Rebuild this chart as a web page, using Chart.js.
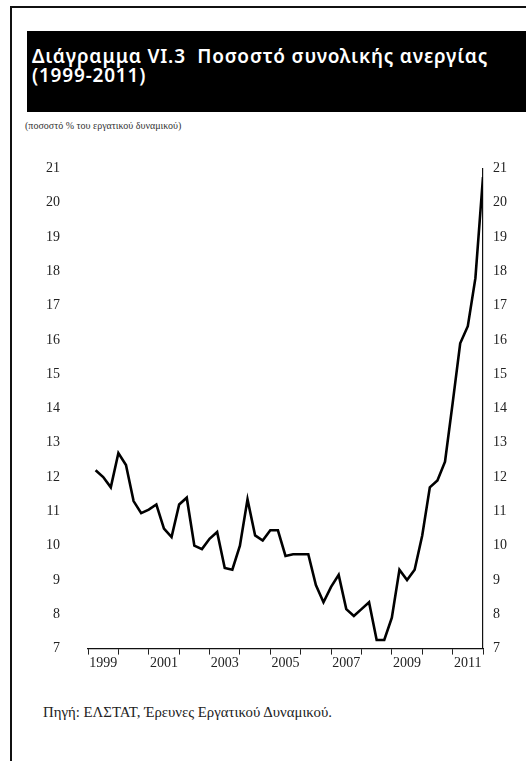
<!DOCTYPE html>
<html>
<head>
<meta charset="utf-8">
<script src="https://cdn.jsdelivr.net/npm/chart.js@4.4.0/dist/chart.umd.min.js"></script>
<style>
  html, body { margin: 0; padding: 0; background: #fff; }
  body { width: 526px; height: 761px; position: relative; overflow: hidden; }
  #frame { position: absolute; left: 10px; top: 6px; width: 600px; height: 900px;
           border-left: 2px solid #111; border-top: 2px solid #111; }
  #title { position: absolute; left: 27px; top: 31px; width: 520px; height: 81px; background: #000; }
  #title div { position: absolute; left: 5px; top: 16px; color: #fff; font-family: "Noto Sans", sans-serif;
               font-weight: 600; font-size: 19px; letter-spacing: 0.8px; line-height: 19px; white-space: nowrap; }
  #subtitle { position: absolute; left: 25px; top: 120px; font-family: "Liberation Serif", serif;
              font-size: 10px; color: #333; white-space: nowrap; }
  #chartBox { position: absolute; left: 0; top: 132px; width: 526px; height: 553px; }
  #source { position: absolute; left: 43px; top: 704px; font-family: "Liberation Serif", serif;
            font-size: 14.8px; color: #222; white-space: nowrap; }
</style>
</head>
<body>
<div id="frame"></div>
<div id="title"><div>Διάγραμμα VI.3&nbsp;&nbsp;Ποσοστό συνολικής ανεργίας<br>(1999-2011)</div></div>
<div id="subtitle">(ποσοστό % του εργατικού δυναμικού)</div>
<div id="chartBox"><canvas id="anergia" width="526" height="553"></canvas></div>
<div id="source">Πηγή: ΕΛΣΤΑΤ, Έρευνες Εργατικού Δυναμικού.</div>

<script>
// τριμηνιαία στοιχεία 1999 - 2011
var years = [1999, 2000, 2001, 2002, 2003, 2004, 2005, 2006, 2007, 2008, 2009, 2010, 2011];
var yearLabels = ['1999', '2001', '2003', '2005', '2007', '2009', '2011'];
var yTicks = [7, 8, 9, 10, 11, 12, 13, 14, 15, 16, 17, 18, 19, 20, 21];

var unemployment = [
    12.2, 12.0, 11.7, 12.7,   // 1999
    12.35, 11.3, 10.95, 11.05, // 2000
    11.2, 10.5, 10.25, 11.2,  // 2001
    11.4, 10.0, 9.9, 10.2,    // 2002
    10.4, 9.35, 9.3, 10.0,    // 2003
    11.35, 10.3, 10.15, 10.45, // 2004
    10.45, 9.7, 9.75, 9.75,   // 2005
    9.75, 8.85, 8.35, 8.8,    // 2006
    9.15, 8.15, 7.95, 8.15,   // 2007
    8.35, 7.25, 7.25, 7.9,    // 2008
    9.3, 9.0, 9.3, 10.3,      // 2009
    11.7, 11.9, 12.45, 14.15, // 2010
    15.9, 16.4, 17.8, 20.75   // 2011
];

// κάθε σημείο στο τέλος του τριμήνου
var points = unemployment.map(function (v, i) {
    return { x: years[0] + (i + 1) / 4, y: v };
});

var tickFont = { family: 'Liberation Serif', size: 14 };

var ctx = document.getElementById('anergia').getContext('2d');

new Chart(ctx, {
    type: 'line',
    data: {
        datasets: [{
            label: 'Ανεργία',
            data: points,
            borderColor: '#000',
            borderWidth: 2.6,
            pointRadius: 0,
            tension: 0,
            fill: false,
            yAxisID: 'y'
        }]
    },
    options: {
        responsive: false,
        animation: false,
        layout: { padding: { top: 19, left: 0, right: 0, bottom: 0 } },
        plugins: {
            legend: { display: false },
            tooltip: { enabled: false }
        },
        scales: {
            x: {
                type: 'linear',
                min: years[0],
                max: years[years.length - 1] + 1,
                afterFit: function (s) { s.height = 35; },
                afterBuildTicks: function (s) {
                    var t = [];
                    for (var v = s.min; v <= s.max + 0.01; v += 0.5) t.push({ value: v });
                    s.ticks = t;
                },
                ticks: {
                    autoSkip: false,
                    maxRotation: 0,
                    padding: 0,
                    color: '#222',
                    font: tickFont,
                    callback: function (value) {
                        var lbl = String(Math.floor(value));
                        if (Math.abs(value % 1 - 0.5) < 0.01 && yearLabels.indexOf(lbl) >= 0) return lbl;
                        return '';
                    }
                },
                grid: {
                    drawOnChartArea: false,
                    drawTicks: true,
                    tickLength: 6,
                    tickColor: function (c) {
                        return (c.tick && Math.abs(c.tick.value % 1) < 0.01) ? '#222' : 'rgba(0,0,0,0)';
                    }
                },
                border: { display: true, color: '#111', width: 1.2 }
            },
            y: {
                position: 'left',
                min: yTicks[0],
                max: yTicks[yTicks.length - 1],
                afterFit: function (s) { s.width = 88; },
                ticks: { stepSize: 1, padding: 28, color: '#222', font: tickFont },
                grid: { display: false, drawTicks: false },
                border: { display: false }
            },
            y2: {
                position: 'right',
                min: yTicks[0],
                max: yTicks[yTicks.length - 1],
                afterFit: function (s) { s.width = 43; },
                ticks: { stepSize: 1, padding: 10, color: '#222', font: tickFont },
                grid: { drawOnChartArea: false, drawTicks: false },
                border: { display: true, color: '#111', width: 1.2 }
            }
        }
    }
});
</script>
</body>
</html>
